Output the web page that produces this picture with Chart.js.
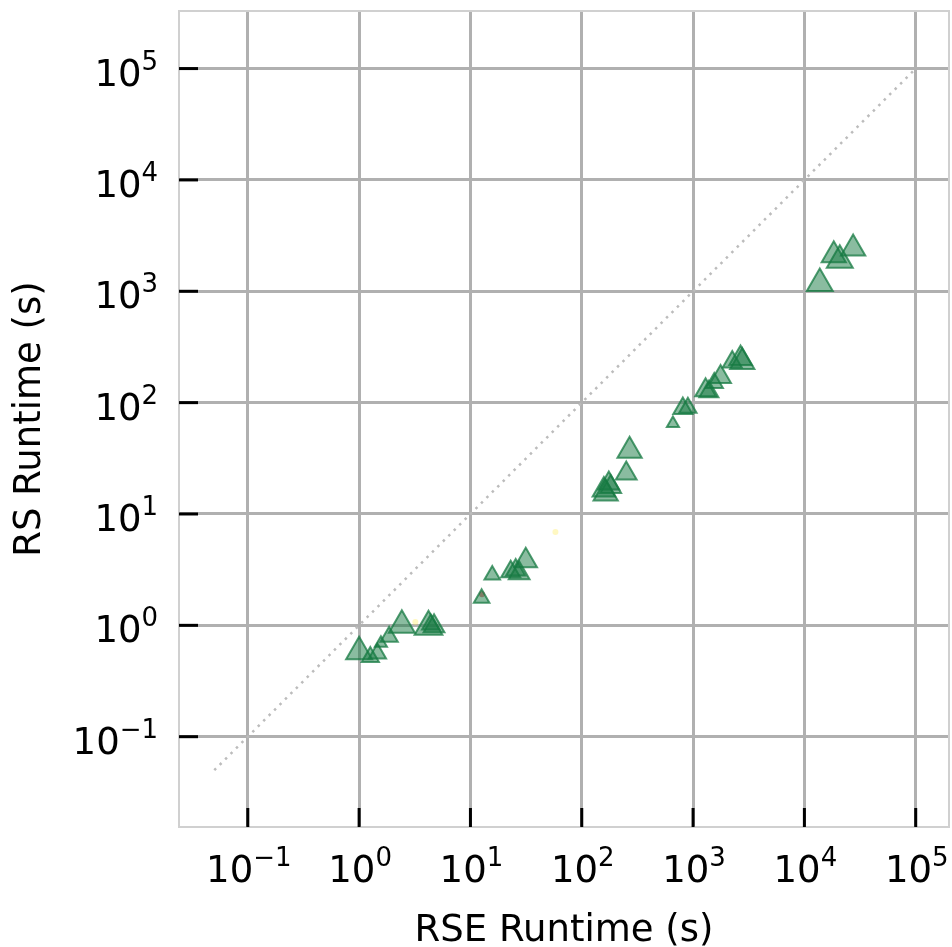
<!DOCTYPE html>
<html lang="en">
<head>
  <meta charset="UTF-8">
  <title>RS vs RSE Runtime</title>
  <style>
    html, body { margin: 0; padding: 0; background: #fff; }
    canvas { display: block; }
  </style>
</head>
<body>
  <canvas id="runtimeChart" width="952" height="947"></canvas>

  <script src="https://cdn.jsdelivr.net/npm/chart.js"></script>
  <script>
    // runtimes (seconds)
    const rseRuntime = [1.0, 1.26, 1.46, 1.57, 1.86, 2.42, 4.2, 4.71, 4.4,
      12.6, 15.7, 23, 25.5, 27.4, 31.4,
      158, 175, 164, 182, 251, 269,
      659, 809, 898, 1295, 1387, 1550, 1766, 2249, 2669, 2766,
      13750, 18360, 20800, 27400];
    const rsRuntime = [0.58, 0.52, 0.56, 0.69, 0.79, 1.0, 0.97, 0.98, 1.02,
      1.75, 2.83, 3.03, 3.14, 2.93, 3.8,
      16.4, 18.8, 15.3, 17.5, 23.1, 36.9,
      65, 88.7, 90, 129, 125, 150, 170, 232, 249, 232,
      1175, 2110, 1900, 2420];
    const markerSize = [15, 10, 10, 7, 10, 15, 16, 12, 10,
      9, 9, 11, 11, 12, 13,
      13, 12, 14, 12, 12, 14,
      7, 11, 10, 12, 11, 10, 12, 11, 13, 14,
      15, 14, 15, 14];

    // faint markers of the other runs
    const otherX = [3.2, 58, 12.7];
    const otherY = [1.07, 6.9, 1.9];
    const otherColor = ['rgba(255,235,80,0.35)', 'rgba(255,235,80,0.35)', 'rgba(220,40,60,0.6)'];

    // y = x reference line
    const diagX = [0.05, 1e5];
    const diagY = [0.05, 1e5];

    const tickExps = [-1, 0, 1, 2, 3, 4, 5];

    const FONT = "'DejaVu Sans', sans-serif";

    // draw "10" with a raised exponent, like matplotlib's math text
    function drawPower(ctx, e, x, baseY, align) {
      const base = '10';
      const exp = e < 0 ? '\u2212' + Math.abs(e) : String(e);
      ctx.font = '37px ' + FONT;
      const wb = ctx.measureText(base).width;
      ctx.font = '26px ' + FONT;
      const we = ctx.measureText(exp).width;
      const total = wb + we;
      let left = align === 'right' ? x - total : x - total / 2;
      ctx.textAlign = 'left';
      ctx.textBaseline = 'alphabetic';
      ctx.font = '37px ' + FONT;
      ctx.fillText(base, left, baseY);
      ctx.font = '26px ' + FONT;
      ctx.fillText(exp, left + wb, baseY - 16);
    }

    // box round the plot and black ticks pointing in
    const frame = {
      id: 'frame',
      beforeDatasetsDraw(chart) {
        const { ctx, chartArea: a, scales } = chart;
        ctx.save();
        ctx.strokeStyle = '#d0d0d0';
        ctx.lineWidth = 2;
        ctx.strokeRect(a.left, a.top, a.right - a.left, a.bottom - a.top);
        ctx.strokeStyle = '#000';
        ctx.lineWidth = 3;
        tickExps.forEach(e => {
          const px = scales.x.getPixelForValue(Math.pow(10, e));
          ctx.beginPath();
          ctx.moveTo(px, a.bottom);
          ctx.lineTo(px, a.bottom - 19);
          ctx.stroke();
          const py = scales.y.getPixelForValue(Math.pow(10, e));
          ctx.beginPath();
          ctx.moveTo(a.left, py);
          ctx.lineTo(a.left + 19, py);
          ctx.stroke();
        });
        ctx.restore();
      },
      afterDraw(chart) {
        const { ctx, chartArea: a, scales } = chart;
        ctx.save();
        ctx.fillStyle = '#000';
        tickExps.forEach(e => {
          drawPower(ctx, e, scales.x.getPixelForValue(Math.pow(10, e)) + 1, a.bottom + 55, 'center');
          drawPower(ctx, e, a.left - 21, scales.y.getPixelForValue(Math.pow(10, e)) + 17, 'right');
        });
        ctx.restore();
      }
    };

    const ctx = document.getElementById('runtimeChart').getContext('2d');
    new Chart(ctx, {
      data: {
        datasets: [
          {
            type: 'line',
            data: diagX.map((x, i) => ({ x: x, y: diagY[i] })),
            borderColor: '#bcbcbc',
            borderWidth: 2.5,
            borderDash: [2.5, 5.2],
            pointRadius: 0,
            order: 3
          },
          {
            type: 'scatter',
            data: otherX.map((x, i) => ({ x: x, y: otherY[i] })),
            backgroundColor: otherColor,
            borderWidth: 0,
            pointRadius: 3,
            order: 2
          },
          {
            type: 'scatter',
            data: rseRuntime.map((x, i) => ({ x: x, y: rsRuntime[i] })),
            pointStyle: 'triangle',
            pointRadius: markerSize,
            backgroundColor: 'rgba(22,122,66,0.5)',
            borderColor: 'rgba(22,122,66,0.75)',
            borderWidth: 2,
            order: 1
          }
        ]
      },
      options: {
        responsive: false,
        animation: false,
        layout: { autoPadding: false, padding: { top: 11, right: 3, left: 0, bottom: 0 } },
        plugins: { legend: { display: false }, tooltip: { enabled: false } },
        scales: {
          x: {
            type: 'logarithmic',
            min: Math.pow(10, -1.618),
            max: Math.pow(10, 5.299),
            afterBuildTicks: s => { s.ticks = tickExps.map(e => ({ value: Math.pow(10, e) })); },
            afterFit: s => { s.height = 120; s.paddingLeft = 0; s.paddingRight = 0; },
            grid: { color: '#b0b0b0', lineWidth: 3, drawTicks: false },
            border: { display: false },
            ticks: { display: false },
            title: {
              display: true,
              text: 'RSE Runtime (s)',
              color: '#000',
              font: { family: FONT, size: 37, lineHeight: 1 },
              padding: { top: 0, bottom: -3 }
            }
          },
          y: {
            type: 'logarithmic',
            min: Math.pow(10, -1.811),
            max: Math.pow(10, 5.517),
            afterBuildTicks: s => { s.ticks = tickExps.map(e => ({ value: Math.pow(10, e) })); },
            afterFit: s => { s.width = 179; s.paddingTop = 0; s.paddingBottom = 0; },
            grid: { color: '#b0b0b0', lineWidth: 3, drawTicks: false },
            border: { display: false },
            ticks: { display: false },
            title: {
              display: true,
              text: 'RS Runtime (s)',
              color: '#000',
              font: { family: FONT, size: 37 },
              padding: { top: 8, bottom: 0 }
            }
          }
        }
      },
      plugins: [frame]
    });
  </script>
</body>
</html>
